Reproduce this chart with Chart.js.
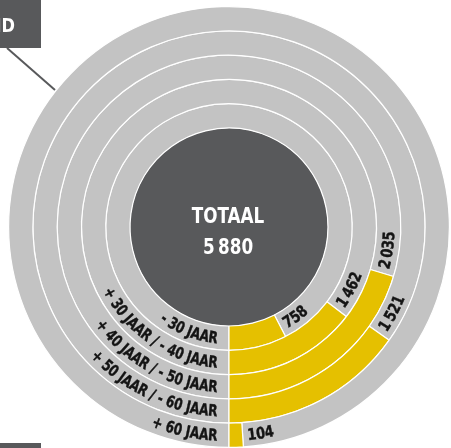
<!DOCTYPE html>
<html>
<head>
<meta charset="utf-8">
<script src="https://cdn.jsdelivr.net/npm/chart.js@4/dist/chart.umd.min.js"></script>
<style>
  html, body { margin: 0; padding: 0; background: #fff; overflow: hidden; }
  #wrap { position: relative; width: 451px; height: 448px; }
</style>
</head>
<body>
<div id="wrap"><canvas id="ringChart" width="451" height="448"></canvas></div>
<script>
// data, inner ring first
const groups = ['- 30 JAAR', '+ 30 JAAR / - 40 JAAR', '+ 40 JAAR / - 50 JAAR', '+ 50 JAAR / - 60 JAAR', '+ 60 JAAR'];
const counts = [758, 1462, 2035, 1521, 104];
const countLabels = ['758', '1 462', '2 035', '1 521', '104'];
const scaleMax = 10000;   // a full ring stands for 10 000
const totalTitle = 'TOTAAL';
const totalLabel = '5 880';

const YELLOW = '#e5c000', GRAY = '#c3c3c3', DARK = '#58595b', INK = '#141414';
const FONT = '"DejaVu Sans Condensed", "Liberation Sans Narrow", sans-serif';

// text along an arc, going counter-clockwise, letter tops toward the centre
// sx squeezes the letters to get a narrower face
function arcText(ctx, text, cx, cy, r, startAng, sx) {
  let a = startAng;
  for (const ch of text) {
    const w = ctx.measureText(ch).width * sx;
    a -= w / 2 / r;
    ctx.save();
    ctx.translate(cx + r * Math.cos(a), cy + r * Math.sin(a));
    ctx.rotate(a - Math.PI / 2);
    ctx.scale(sx, 1);
    ctx.fillText(ch, 0, 0);
    ctx.strokeText(ch, 0, 0);
    ctx.restore();
    a -= w / 2 / r;
  }
}
function textWidth(ctx, text, sx) {
  let w = 0;
  for (const ch of text) w += ctx.measureText(ch).width * sx;
  return w;
}
function squeezedText(ctx, text, x, y, sx) {
  ctx.save();
  ctx.translate(x, y);
  ctx.scale(sx, 1);
  ctx.fillText(text, 0, 0);
  ctx.restore();
}

const ringPlugin = {
  id: 'ringPlugin',
  beforeDatasetsDraw(chart) {
    const ctx = chart.ctx;
    const inner = chart.getDatasetMeta(groups.length - 1).data[0];
    ctx.save();
    ctx.beginPath();
    ctx.arc(inner.x, inner.y, inner.innerRadius, 0, Math.PI * 2);
    ctx.fillStyle = DARK;
    ctx.fill();
    ctx.restore();
  },
  afterDatasetsDraw(chart) {
    const ctx = chart.ctx;
    ctx.save();
    ctx.textAlign = 'center';
    ctx.textBaseline = 'alphabetic';
    const fs = 16;
    ctx.fillStyle = INK;
    ctx.strokeStyle = INK;
    ctx.lineWidth = 0.4;
    for (let ds = 0; ds < groups.length; ds++) {
      const gi = groups.length - 1 - ds;   // dataset 0 is the outer ring
      const meta = chart.getDatasetMeta(ds);
      const grayArc = meta.data[0], yellowArc = meta.data[1];
      const rMid = (grayArc.innerRadius + grayArc.outerRadius) / 2;
      const r = rMid + fs * 0.36;
      ctx.font = `bold ${fs}px ${FONT}`;
      // group name, ends just left of the bottom line
      const w = textWidth(ctx, groups[gi], 0.84);
      const endA = grayArc.startAngle + 12 / r;
      arcText(ctx, groups[gi], grayArc.x, grayArc.y, r, endA + w / r, 0.84);
      // count, right after the yellow part
      arcText(ctx, countLabels[gi].replace(' ', '\u2009'), grayArc.x, grayArc.y, r, yellowArc.startAngle - 5 / r, 0.9);
    }
    // centre
    const c = chart.getDatasetMeta(0).data[0];
    ctx.fillStyle = '#fff';
    ctx.textAlign = 'center';
    ctx.font = `bold 22px ${FONT}`;
    squeezedText(ctx, totalTitle, c.x - 1, c.y - 4, 0.85);
    squeezedText(ctx, totalLabel.replace(' ', '\u2009'), c.x - 1, c.y + 27, 0.85);
    ctx.restore();
  },
  afterDraw(chart) {
    const ctx = chart.ctx;
    ctx.save();
    ctx.fillStyle = DARK;
    ctx.fillRect(0, 0, 41, 48);
    ctx.fillRect(0, 443, 41, 5);
    ctx.strokeStyle = DARK;
    ctx.lineWidth = 2;
    ctx.beginPath();
    ctx.moveTo(7, 48);
    ctx.lineTo(55, 90);
    ctx.stroke();
    ctx.fillStyle = '#fff';
    ctx.font = `bold 20px ${FONT}`;
    ctx.textAlign = 'right';
    squeezedText(ctx, 'ND', 15, 32, 0.9);
    ctx.restore();
  }
};

const datasets = [];
for (let i = groups.length - 1; i >= 0; i--) {
  datasets.push({
    label: groups[i],
    data: [scaleMax - counts[i], counts[i]],
    backgroundColor: [GRAY, YELLOW],
    borderColor: '#fff',
    borderWidth: 1.2
  });
}

new Chart(document.getElementById('ringChart'), {
  type: 'doughnut',
  data: { labels: ['rest', 'aantal'], datasets },
  options: {
    responsive: false,
    animation: false,
    events: [],
    rotation: 180,
    cutout: 99,
    layout: { padding: { left: 8, right: 1, top: 6, bottom: 0 } },
    plugins: { legend: { display: false }, tooltip: { enabled: false } }
  },
  plugins: [ringPlugin]
});
</script>
</body>
</html>
